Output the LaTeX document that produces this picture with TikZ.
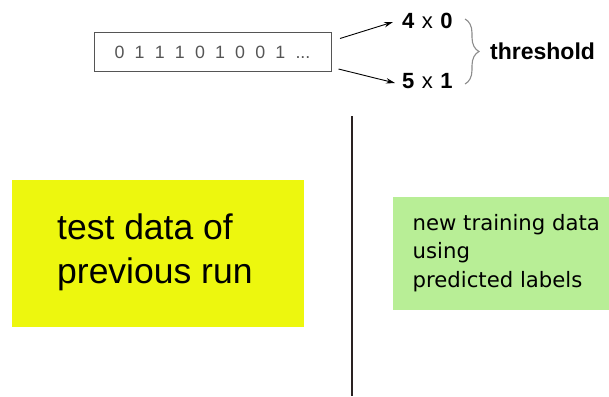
\documentclass[tikz,border=0pt]{standalone}
\usepackage{fontspec}
\setmainfont{Liberation Sans}
\newfontfamily\dejavu{DejaVu Sans}
\usetikzlibrary{decorations.pathreplacing,arrows.meta}

\definecolor{seqgray}{HTML}{555555}
\definecolor{bracegray}{HTML}{8C8C8C}
\definecolor{testyellow}{RGB}{237,247,14}
\definecolor{traingreen}{RGB}{184,238,150}
\definecolor{dividergray}{HTML}{2A2222}

\tikzset{
  seqbox/.style={draw=seqgray, line width=1pt, minimum width=237pt, minimum height=38pt,
                 inner sep=0pt, text=seqgray, font=\fontsize{17.8}{22}\selectfont},
  countlabel/.style={anchor=west, inner sep=0pt, font=\fontsize{22}{26}\selectfont},
  arr/.style={-{Stealth[length=9pt,width=5.5pt]}, line width=0.9pt},
  databox/.style={fill=#1, draw=none, inner sep=0pt},
}

\begin{document}
\begin{tikzpicture}[x=1pt, y=-1pt]
  \useasboundingbox (0,0) rectangle (609,396);

  % bit sequence (widely spaced digits) and the two counts
  \node[seqbox] (seq) at (212.5,52) {{\spaceskip=10.2pt 0 1 1 1 0 1 0 0 1 ...}};
  \node[countlabel] (c40) at (402,20.5) {{\spaceskip=7.5pt \textbf{4} x \textbf{0}}};
  \node[countlabel] (c51) at (402,81.5) {{\spaceskip=7.5pt \textbf{5} x \textbf{1}}};
  \node[anchor=west, inner sep=0pt, font=\bfseries\fontsize{23}{27}\selectfont] (thr) at (490,51) {threshold};

  \draw[arr] ([shift={(8.5pt,13.5pt)}]seq.east) -- ([shift={(-9pt,-1.5pt)}]c40.west);
  \draw[arr] ([shift={(7pt,-17pt)}]seq.east) -- ([shift={(-7pt,-1.5pt)}]c51.west);

  % brace joining the counts
  \coordinate (btop) at (465,19);
  \coordinate (bbot) at (465,84);
  \draw[bracegray, line width=1.1pt, decorate, decoration={brace, amplitude=14pt}] (btop) -- (bbot);

  % divider
  \coordinate (vtop) at (352,116);
  \coordinate (vbot) at (352,396);
  \draw[dividergray, line width=2pt] (vtop) -- (vbot);

  % previous run (base anchor sits on the last line)
  \node[databox=testyellow, minimum width=292pt, minimum height=147pt] (test) at (158,253.5) {};
  \node[anchor=base west, align=left, inner sep=0pt, font=\fontsize{35.5}{44}\selectfont]
    (testtext) at (57,283) {test data of\\previous run};

  % new training data
  \node[databox=traingreen, minimum width=216pt, minimum height=113pt] (train) at (501,253.5) {};
  \node[anchor=base west, align=left, inner sep=0pt, font=\dejavu\fontsize{21.2}{28.3}\selectfont]
    (traintext) at (412.5,287) {new training data\\using\\predicted labels};
\end{tikzpicture}
\end{document}
